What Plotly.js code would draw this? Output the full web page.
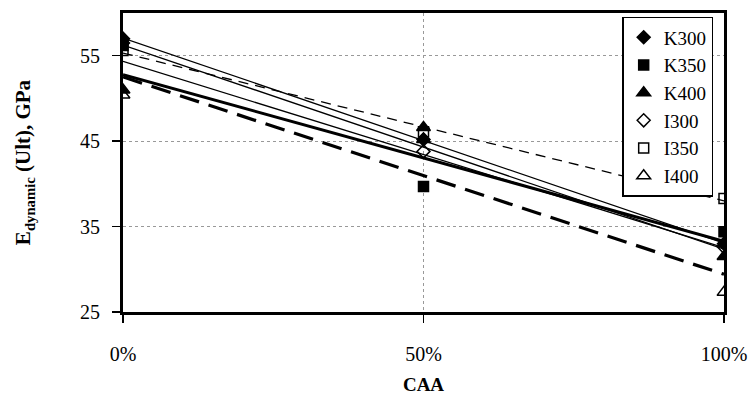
<!DOCTYPE html>
<html>
<head>
<meta charset="utf-8">
<script src="https://cdn.plot.ly/plotly-3.0.1.min.js"></script>
<style>html,body{margin:0;padding:0;background:#fff;}#chart{width:756px;height:403px;}</style>
</head>
<body>
<div id="chart"></div>
<script>
// CAA fraction
const caa = [0, 0.5, 1];
const seriesNames = ["K300", "K350", "K400", "I300", "I350", "I400"];
const K300 = [57.0, 45.2, 33.0];
const K350 = [56.2, 39.7, 34.4];
const K400 = [51.0, 46.6, 31.5];
const I300 = [56.5, 43.8, 32.6];
const I350 = [55.6, 46.1, 38.3];
const I400 = [50.4, 45.2, 27.3];
const tickVals = [0, 0.5, 1];
const tickText = ["0%", "50%", "100%"];

const values = [K300, K350, K400, I300, I350, I400];
const symbols = ["diamond", "square", "triangle-up", "diamond-open", "square-open", "triangle-up-open"];
const trendStyles = [
  {width: 1.3, dash: "solid"},
  {width: 1.3, dash: "solid"},
  {width: 3, dash: "solid"},
  {width: 1.3, dash: "solid"},
  {width: 1.3, dash: "10px,7px"},
  {width: 3.2, dash: "20px,10px"}
];

function linFit(xs, ys) {
  const n = xs.length;
  const mx = xs.reduce((a, b) => a + b, 0) / n;
  const my = ys.reduce((a, b) => a + b, 0) / n;
  let sxy = 0, sxx = 0;
  for (let i = 0; i < n; i++) { sxy += (xs[i] - mx) * (ys[i] - my); sxx += (xs[i] - mx) ** 2; }
  const b = sxy / sxx;
  const a = my - b * mx;
  return x => a + b * x;
}

const traces = [];
values.forEach((ys, i) => {
  const f = linFit(caa, ys);
  traces.push({
    x: [caa[0], caa[caa.length - 1]],
    y: [f(caa[0]), f(caa[caa.length - 1])],
    mode: "lines", showlegend: false, hoverinfo: "skip",
    line: {color: "#000", width: trendStyles[i].width, dash: trendStyles[i].dash}
  });
});
values.forEach((ys, i) => {
  traces.push({
    x: caa, y: ys, name: seriesNames[i], mode: "markers",
    marker: {symbol: symbols[i], size: symbols[i].indexOf("triangle") >= 0 ? 12 : 10, color: "#000",
             line: {color: "#000", width: 1.5}}
  });
});

const serif = "'Times New Roman', 'Liberation Serif', 'DejaVu Serif', serif";
const layout = {
  width: 756, height: 403,
  margin: {l: 123, r: 32, t: 13, b: 91},
  paper_bgcolor: "#fff", plot_bgcolor: "#fff",
  font: {family: serif, color: "#000", size: 20},
  showlegend: true,
  legend: {
    x: 0.982, y: 0.987, xanchor: "right", yanchor: "top",
    bgcolor: "#fff", bordercolor: "#000", borderwidth: 1.5,
    font: {family: serif, size: 19, color: "#000"},
    tracegroupgap: 0, itemwidth: 30
  },
  xaxis: {
    range: [0, 1], tickvals: tickVals, ticktext: tickText,
    showline: true, linecolor: "#000", linewidth: 3, mirror: true,
    ticks: "outside", ticklen: 8, tickwidth: 1.5, tickcolor: "#000",
    showgrid: true, gridcolor: "#999", gridwidth: 1, griddash: "dot",
    zeroline: false, ticklabelstandoff: 14,
    tickfont: {family: serif, size: 20, color: "#000"},
    title: {text: "<b>CAA</b>", font: {family: serif, size: 19, color: "#000"}, standoff: 14}
  },
  yaxis: {
    range: [25, 60], tick0: 25, dtick: 10,
    showline: true, linecolor: "#000", linewidth: 3, mirror: true,
    ticks: "outside", ticklen: 8, tickwidth: 1.5, tickcolor: "#000",
    showgrid: true, gridcolor: "#999", gridwidth: 1, griddash: "dot",
    zeroline: false, ticklabelstandoff: 8,
    tickfont: {family: serif, size: 20, color: "#000"},
    title: {text: "<b>E<sub>dynamic</sub> (Ult), GPa</b>", font: {family: serif, size: 21, color: "#000"}, standoff: 44}
  }
};

Plotly.newPlot("chart", traces, layout, {displayModeBar: false, staticPlot: true});
</script>
</body>
</html>
